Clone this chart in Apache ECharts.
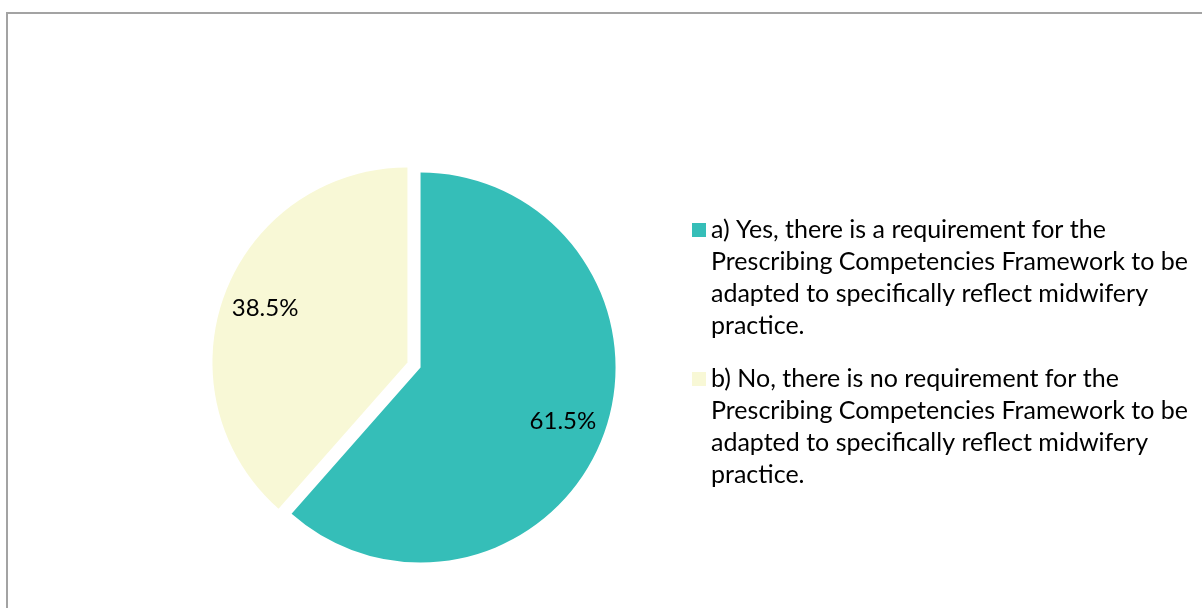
<!DOCTYPE html>
<html>
<head>
<meta charset="utf-8">
<script src="https://cdn.jsdelivr.net/npm/echarts@6/dist/echarts.min.js"></script>
<style>
  html, body { margin: 0; padding: 0; background: #fff; }
  #frame {
    position: absolute; left: 6px; top: 12px; width: 1300px; height: 700px;
    border: 2px solid #a3a3a3; box-sizing: border-box;
  }
  #chart { position: absolute; left: 0; top: 0; width: 1202px; height: 608px; }
</style>
</head>
<body>
<div id="frame"></div>
<div id="chart"></div>
<script>
// Survey answers and their share of respondents (%)
const categories = [
  'a) Yes, there is a requirement for the Prescribing Competencies Framework to be adapted to specifically reflect midwifery practice.',
  'b) No, there is no requirement for the Prescribing Competencies Framework to be adapted to specifically reflect midwifery practice.'
];
const shares = [61.5, 38.5];
const colors = ['#35BEB8', '#F8F8D6'];

const FONT = 'Lato, "Open Sans", sans-serif';
const LEGEND_SIZE = 25;
const LEGEND_LINE = 32;
const LEGEND_WIDTH = 495;
const center = [414, 365];
const radius = 195;
const explode = 7;

// Word-wrap a legend entry to the legend column width
const measureCtx = document.createElement('canvas').getContext('2d');
function wrap(text) {
  measureCtx.font = LEGEND_SIZE + 'px ' + FONT;
  const lines = [];
  let line = '';
  text.split(' ').forEach(word => {
    const tryLine = line ? line + ' ' + word : word;
    if (line && measureCtx.measureText(tryLine).width > LEGEND_WIDTH) {
      lines.push(line);
      line = word;
    } else {
      line = tryLine;
    }
  });
  if (line) lines.push(line);
  return lines;
}

const chart = echarts.init(document.getElementById('chart'), null, { renderer: 'canvas' });

const sliceData = categories.map((name, i) => ({
  name,
  value: shares[i],
  selected: true,
  itemStyle: { color: colors[i] },
  select: { itemStyle: { color: colors[i], borderWidth: 0 } }
}));

// Same slices, transparent, only used to place the percentage labels further out
const labelData = categories.map((name, i) => ({
  name,
  value: shares[i],
  selected: true,
  itemStyle: { color: 'rgba(0,0,0,0)' },
  select: { itemStyle: { color: 'rgba(0,0,0,0)', borderWidth: 0 } }
}));

function render() {
  chart.setOption({
    animation: false,
    backgroundColor: 'transparent',
    legend: {
      orient: 'vertical',
      left: 692,
      top: 118,
      padding: 0,
      itemWidth: 14,
      itemHeight: 14,
      itemGap: -75,
      icon: 'rect',
      selectedMode: false,
      data: categories,
      // blank lines above keep the marker beside the first text line
      formatter: name => {
        const lines = wrap(name);
        const blanks = new Array(lines.length - 1).fill('');
        return blanks.concat(lines).join('\n');
      },
      textStyle: {
        fontFamily: FONT,
        fontSize: LEGEND_SIZE,
        lineHeight: LEGEND_LINE,
        color: '#000'
      }
    },
    series: [
      {
        type: 'pie',
        center,
        radius: [0, radius],
        startAngle: 90,
        clockwise: true,
        selectedMode: 'multiple',
        selectedOffset: explode,
        emphasis: { disabled: true },
        label: { show: false },
        labelLine: { show: false },
        data: sliceData
      },
      {
        type: 'pie',
        center,
        radius: [radius * 0.53, radius],
        startAngle: 90,
        clockwise: true,
        silent: true,
        selectedMode: 'multiple',
        selectedOffset: explode,
        emphasis: { disabled: true },
        label: {
          show: true,
          position: 'inside',
          formatter: p => p.value.toFixed(1) + '%',
          fontFamily: FONT,
          fontSize: 24,
          color: '#000'
        },
        labelLine: { show: false },
        data: labelData
      }
    ]
  });
}

if (document.fonts && document.fonts.load) {
  document.fonts.load(LEGEND_SIZE + 'px Lato').then(render, render);
} else {
  render();
}
</script>
</body>
</html>
